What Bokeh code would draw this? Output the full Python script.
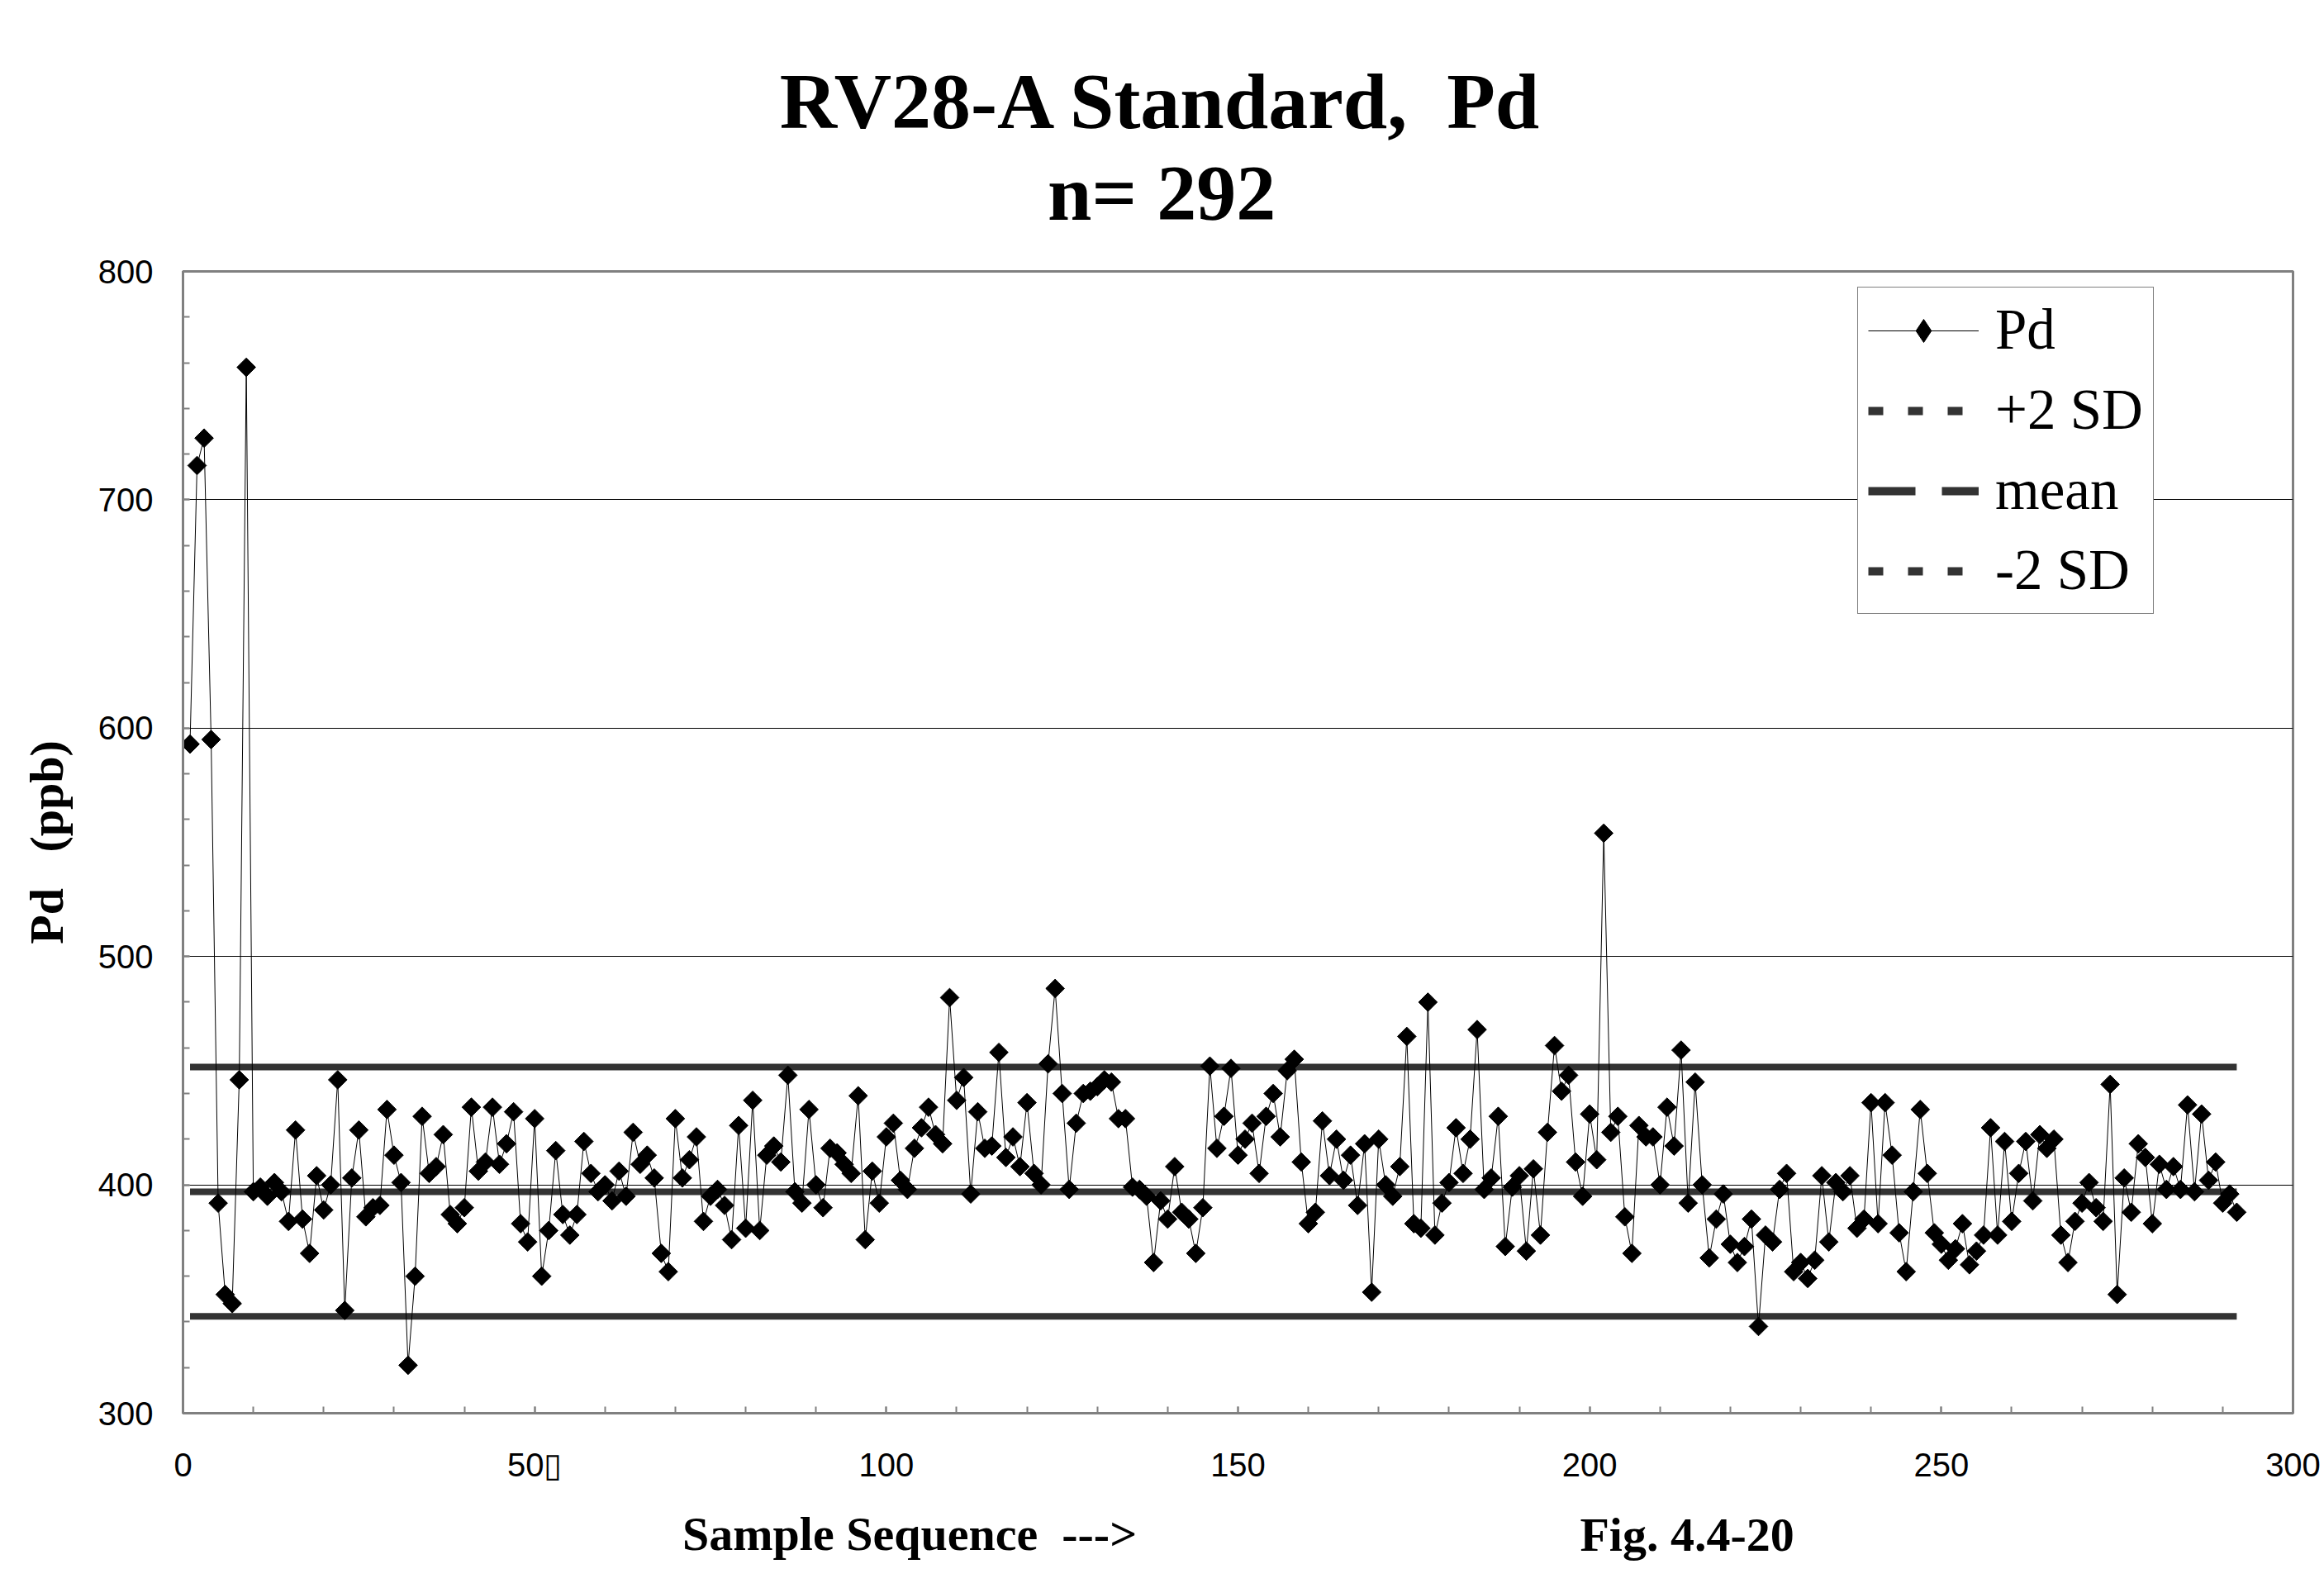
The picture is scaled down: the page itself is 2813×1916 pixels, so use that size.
from math import pi
from bokeh.plotting import figure
from bokeh.models import Range1d, SingleIntervalTicker, Label, Legend, LegendItem
from bokeh.embed import file_html
from bokeh.resources import INLINE

# ---------------- data ----------------
samples = list(range(1, 293))
pd_ppb = [
    593, 715, 727, 595, 392, 352, 348, 446, 758, 397,
    399, 395, 401, 397, 384, 424, 385, 370, 404, 389,
    400, 446, 345, 403, 424, 386, 390, 391, 433, 413,
    401, 321, 360, 430, 405, 408, 422, 387, 383, 390,
    434, 406, 410, 434, 409, 418, 432, 383, 375, 429,
    360, 380, 415, 387, 378, 387, 419, 405, 397, 400,
    393, 406, 395, 423, 409, 413, 403, 370, 362, 429,
    403, 411, 421, 384, 395, 398, 391, 376, 426, 381,
    437, 380, 413, 417, 410, 448, 397, 392, 433, 400,
    390, 416, 414, 409, 405, 439, 376, 406, 392, 421,
    427, 402, 398, 416, 425, 434, 422, 418, 482, 437,
    447, 396, 432, 416, 417, 458, 412, 421, 408, 436,
    405, 400, 453, 486, 440, 398, 427, 440, 441, 443,
    446, 445, 429, 429, 399, 398, 395, 366, 393, 385,
    408, 388, 385, 370, 390, 452, 416, 430, 451, 413,
    420, 427, 405, 430, 440, 421, 450, 455, 410, 383,
    388, 428, 404, 420, 402, 413, 391, 418, 353, 420,
    400, 395, 408, 465, 383, 381, 480, 378, 392, 401,
    425, 405, 420, 468, 398, 403, 430, 373, 399, 404,
    371, 407, 378, 423, 461, 441, 448, 410, 395, 431,
    411, 554, 423, 430, 386, 370, 426, 421, 421, 400,
    434, 417, 459, 392, 445, 400, 368, 385, 396, 374,
    366, 373, 385, 338, 378, 375, 398, 405, 362, 366,
    359, 367, 404, 375, 401, 397, 404, 381, 385, 436,
    383, 436, 413, 379, 362, 397, 433, 405, 379, 374,
    367, 372, 383, 365, 371, 378, 425, 378, 419, 384,
    405, 419, 393, 422, 416, 420, 378, 366, 384, 392,
    401, 390, 384, 444, 352, 403, 388, 418, 412, 383,
    409, 398, 408, 398, 435, 397, 431, 402, 410, 392,
    396, 388,
]
mean_ppb = 397.0
plus_2sd_ppb = 451.6
minus_2sd_ppb = 342.4

x_start, x_end, x_step = 0, 300, 50
y_start, y_end, y_step = 300, 800, 100
x_tick_overrides = {50: "50\u25af"}

# (non-breaking spaces keep the wide gaps of the original)
title_line1 = "RV28-A Standard,\u00a0 Pd"
title_line2 = "n= 292"
x_label_text = "Sample Sequence\u00a0 --->"
fig_label_text = "Fig. 4.4-20"
y_label_text = "Pd\u00a0\u00a0 (ppb)"
legend_labels = ["Pd", "+2 SD", "mean", "-2 SD"]
nan = float("nan")

# ---------------- figure ----------------
p = figure(
    width=2813, height=1916,
    x_range=Range1d(x_start, x_end), y_range=Range1d(y_start, y_end),
    output_backend="svg", toolbar_location=None,
    min_border_left=221, min_border_right=38,
    min_border_top=328, min_border_bottom=206,
)
p.title.visible = False
p.background_fill_color = "white"
p.border_fill_color = "white"
p.outline_line_color = "#808080"
p.outline_line_width = 3

p.xaxis.ticker = SingleIntervalTicker(interval=x_step, num_minor_ticks=5)
p.yaxis.ticker = SingleIntervalTicker(interval=y_step, num_minor_ticks=5)
p.xaxis.major_label_overrides = x_tick_overrides

for ax in (p.xaxis, p.yaxis):
    ax.axis_line_color = "#808080"
    ax.axis_line_width = 3
    ax.major_tick_in = 8
    ax.major_tick_out = 0
    ax.minor_tick_in = 8
    ax.minor_tick_out = 0
    ax.major_tick_line_color = "#808080"
    ax.minor_tick_line_color = "#808080"
    ax.major_tick_line_width = 2
    ax.minor_tick_line_width = 2
    ax.major_label_text_font = "Liberation Sans"
    ax.major_label_text_font_size = "40px"
    ax.major_label_text_color = "black"
p.yaxis.major_label_standoff = 36
p.xaxis.major_label_standoff = 40

p.yaxis.axis_label = y_label_text
p.yaxis.axis_label_text_font = "Liberation Serif"
p.yaxis.axis_label_text_font_size = "58px"
p.yaxis.axis_label_text_font_style = "bold"
p.yaxis.axis_label_text_color = "black"
p.yaxis.axis_label_standoff = 27

p.xgrid.visible = False
p.ygrid.grid_line_color = "black"
p.ygrid.grid_line_width = 1

# reference lines (solid in plot)
band_x = [samples[0], samples[-1]]
band_color = "#333333"
p.line(band_x, [plus_2sd_ppb] * 2, line_color=band_color, line_width=8)
p.line(band_x, [mean_ppb] * 2, line_color=band_color, line_width=8)
p.line(band_x, [minus_2sd_ppb] * 2, line_color=band_color, line_width=8)

# Pd series
r_line = p.line(samples, pd_ppb, line_color="black", line_width=1)
p.scatter(samples, pd_ppb, marker="square", size=16, angle=pi / 4,
          fill_color="black", line_color="black", line_width=1)

# legend-only proxies (no visible marks: NaN data)
lg_pd = p.scatter([nan], [nan], marker="diamond", size=20,
                  fill_color="black", line_color="black")
lg_plus = p.line([nan, nan], [nan, nan], line_color=band_color, line_width=10, line_dash="18 30")
lg_mean = p.line([nan, nan], [nan, nan], line_color=band_color, line_width=10, line_dash="57 32")
lg_minus = p.line([nan, nan], [nan, nan], line_color=band_color, line_width=10, line_dash="18 30")

legend = Legend(
    items=[
        LegendItem(label=legend_labels[0], renderers=[r_line, lg_pd]),
        LegendItem(label=legend_labels[1], renderers=[lg_plus]),
        LegendItem(label=legend_labels[2], renderers=[lg_mean]),
        LegendItem(label=legend_labels[3], renderers=[lg_minus]),
    ],
    location=(2027, 967),
    label_text_font="Liberation Serif",
    label_text_font_size="69px",
    label_text_color="black",
    glyph_width=134, glyph_height=70, label_height=72,
    label_standoff=20, spacing=18, padding=12, margin=0,
    border_line_color="black", border_line_width=1,
    background_fill_color="white", background_fill_alpha=1.0,
)
p.add_layout(legend)

# texts placed in side panels (not clipped to the frame)
serif = "Liberation Serif"


def text_label(txt, x, y, size):
    return Label(x=x, y=y, x_units="screen", y_units="screen", text=txt,
                 text_font=serif, text_font_size=size, text_font_style="bold",
                 text_align="center", text_baseline="alphabetic",
                 text_color="black")


p.add_layout(text_label(fig_label_text, 1820.6, -1529, "58px"), "above")
p.add_layout(text_label(title_line2, 1184.6, 30.3, "96px"), "above")
p.add_layout(text_label(title_line1, 1184.6, 33.9, "96px"), "above")
p.add_layout(text_label(x_label_text, 879.6, 5.7, "58px"), "below")

open("out.html", "w").write(file_html(p, INLINE))
